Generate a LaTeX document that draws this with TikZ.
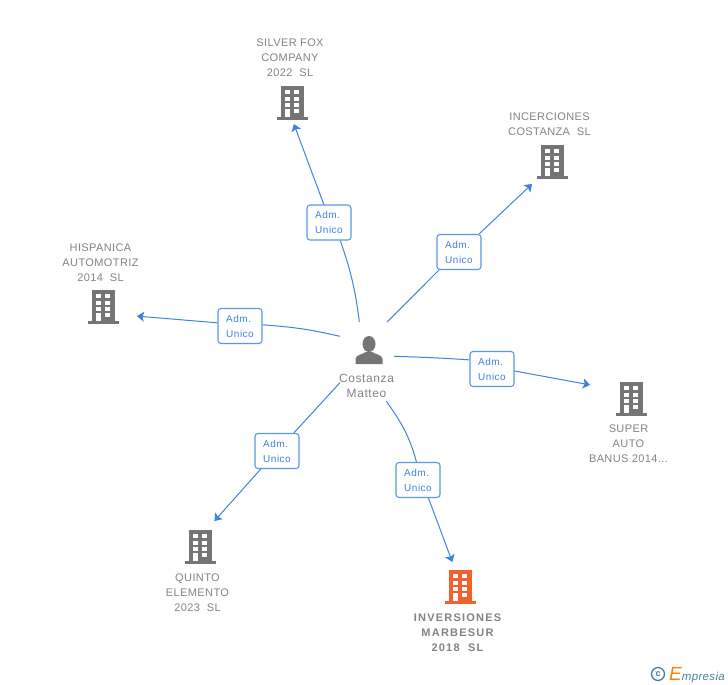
\documentclass[tikz,border=0pt]{standalone}
\usepackage{fontspec}
\setmainfont{Liberation Sans}
\newfontface\orgfont[LetterSpace=3.6]{Liberation Sans}
\newfontface\orgboldfont[LetterSpace=11]{Liberation Sans Bold}
\newfontface\personfont[LetterSpace=5]{Liberation Sans}
\newfontface\rolefont[LetterSpace=5]{Liberation Sans}
\newfontface\brandfont[LetterSpace=3]{Liberation Sans Italic}
\usetikzlibrary{arrows.meta}
\definecolor{linkblue}{HTML}{3F82E0}
\definecolor{boxblue}{HTML}{5B97E5}
\definecolor{txtgray}{HTML}{828282}
\definecolor{icongray}{HTML}{757575}
\definecolor{hot}{HTML}{F4602D}
\definecolor{logoblue}{HTML}{4A7F9A}
\tikzset{
  x=1pt,y=-1pt,
  link/.style={draw=linkblue,line width=1pt},
  linkarrow/.style={link,-{Stealth[length=7pt,width=10pt,inset=1.5pt]}},
  role/.style={draw=boxblue,line width=1.1pt,rounded corners=3pt,fill=white,minimum width=44pt,minimum height=35pt,inner sep=0pt,align=left,text=linkblue,font=\rolefont\fontsize{10}{15}\selectfont},
  anchorbox/.style={inner sep=0pt,outer sep=0pt,rectangle},
  orgname/.style={align=center,text=txtgray,font=\orgfont\fontsize{11}{15}\selectfont,inner sep=0pt},
  building/.pic={
    \fill[pic actions] (-11.5,-17) rectangle (11.5,14);
    \fill[pic actions] (-15.5,14) rectangle (15.5,17);
    \foreach \yy/\hh in {-13/-9,-6.3/-2.3,-0.3/4.3,6.3/10.3}{
      \fill[white] (2.3,\yy) rectangle (7.3,\hh);
    }
    \foreach \yy/\hh in {-13/-9,-6.3/-2.3,-0.3/4.3,6.3/14}{
      \fill[white] (-7,\yy) rectangle (-2,\hh);
    }
  },
  person/.pic={
    \fill[icongray] (0,-6) ellipse (6.5 and 8);
    \fill[icongray] (-13.5,14) -- (-13.5,9) .. controls (-13.5,5) and (-7,4.5) .. (-3,2)
      -- (3,2) .. controls (7,4.5) and (13.5,5) .. (13.5,9) -- (13.5,14) -- cycle;
  },
}
\begin{document}
\begin{tikzpicture}
\useasboundingbox (0,0) rectangle (728,685);
% anchor boxes
\node[anchorbox,minimum width=54pt,minimum height=79pt] (hub) at (367,361.5) {};
\node[anchorbox,minimum width=40pt,minimum height=42pt] (b1) at (292,103) {};
\node[anchorbox,minimum width=40pt,minimum height=44pt] (b2) at (552,162) {};
\node[anchorbox,minimum width=68pt,minimum height=40pt] (b3) at (103,307) {};
\node[anchorbox,minimum width=82pt,minimum height=40pt] (b4) at (631,399) {};
\node[anchorbox,minimum width=40pt,minimum height=52pt] (b5) at (200,547) {};
\node[anchorbox,minimum width=40pt,minimum height=50pt] (b6) at (460,587) {};
% role boxes
\node[role] (l1) at (329,222.5) {Adm.\\Unico};
\node[role] (l2) at (459,252) {Adm.\\Unico};
\node[role] (l3) at (240,326) {Adm.\\Unico};
\node[role] (l4) at (492,369) {Adm.\\Unico};
\node[role] (l5) at (277,451) {Adm.\\Unico};
\node[role] (l6) at (418,480) {Adm.\\Unico};
% connectors
\draw[link] (hub.101.4) to[out=97,in=289] (l1.302);
\draw[linkarrow] (l1.106) -- (b1.275.4);
\draw[link] (hub.63.4) -- (l2.222);
\draw[linkarrow] (l2.42) -- (b2.south west);
\draw[link] (hub.137.8) to[out=167,in=-4] (l3.3);
\draw[linkarrow] (l3.172) -- (b3.345.2);
\draw[link] (hub.11.5) to[out=-2,in=176] (l4.158);
\draw[linkarrow] (l4.355) -- (b4.161);
\draw[link] (hub.218.5) -- (l5.47);
\draw[linkarrow] (l5.228.5) -- (b5.61.7);
\draw[link] (hub.296.8) to[out=-55,in=105] (l6.95);
\draw[linkarrow] (l6.300) -- (b6.107.7);
% icons
\pic[icongray] at (b1) {building};
\pic[icongray] at (b2) {building};
\pic[icongray] at (b3) {building};
\pic[icongray] at (b4) {building};
\pic[icongray] at (b5) {building};
\pic[hot] at (b6) {building};
\pic at (369,350) {person};
% names
\node[orgname,text=icongray!90,font=\personfont\fontsize{12}{15}\selectfont] (n0) at (366.5,385.5) {Costanza\\Matteo};
\node[orgname] (n1) at (290,57.5) {SILVER FOX\\COMPANY\\2022\ \ SL};
\node[orgname] (n2) at (549.5,124) {INCERCIONES\\COSTANZA\ \ SL};
\node[orgname] (n3) at (100.5,262.5) {HISPANICA\\AUTOMOTRIZ\\2014\ \ SL};
\node[orgname] (n4) at (628.5,443.5) {SUPER\\AUTO\\BANUS 2014...};
\node[orgname] (n5) at (197.5,592.5) {QUINTO\\ELEMENTO\\2023\ \ SL};
\node[orgname,font=\orgboldfont\fontsize{11}{15}\selectfont] (n6) at (457.5,632.5) {INVERSIONES\\MARBESUR\\2018\ \ SL};
% logo
\node[circle,draw=logoblue,line width=1.3pt,minimum size=13pt,inner sep=0pt,font=\fontsize{9}{9}\selectfont\bfseries,text=logoblue] (copy) at (658,674) {c};
\node[anchor=west,inner sep=0pt,font=\brandfont\fontsize{11.5}{12}\selectfont,text=logoblue] (brand) at (669,675) {{\color{orange}\fontsize{19}{19}\selectfont E}mpresia};
\end{tikzpicture}
\end{document}
